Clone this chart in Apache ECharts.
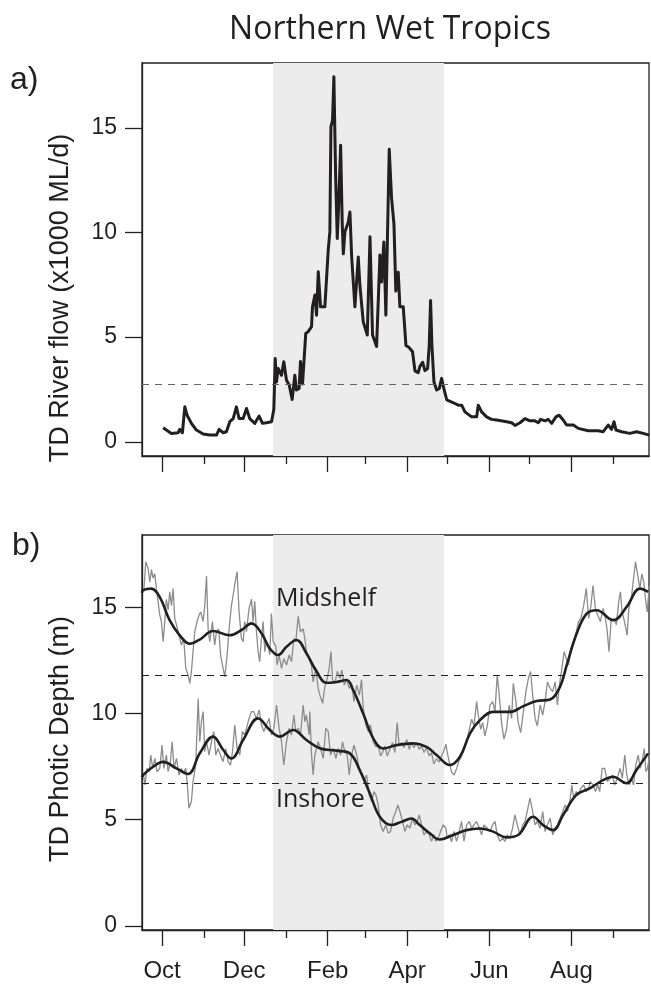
<!DOCTYPE html>
<html>
<head>
<meta charset="utf-8">
<script src="https://cdn.jsdelivr.net/npm/echarts@6/dist/echarts.min.js"></script>
<style>
html,body{margin:0;padding:0;background:#fff;}
#chart{width:651px;height:985px;}
</style>
</head>
<body>
<div id="chart"></div>
<script>
// x values are days counted from 1 October
const majorTickDays = [0, 61, 123, 182, 243, 304];
const majorTickLabels = ['Oct', 'Dec', 'Feb', 'Apr', 'Jun', 'Aug'];
const minorTickDays = [31, 92, 151, 212, 273, 335];
const yTicks = [0, 5, 10, 15];
const wetSeason = [82.5, 209.3];
const flowThreshold = 2.76;
const midshelfThreshold = 11.83;
const inshoreThreshold = 6.72;

const flowData = [[0.8,0.67],[3.2,0.56],[6.9,0.40],[11.9,0.43],[13.1,0.59],[15.1,0.43],[16.9,1.67],[18.6,1.27],[21.8,0.88],[25.5,0.56],[30.5,0.37],[35.4,0.32],[40.4,0.32],[42.4,0.59],[45.4,0.43],[47.8,0.48],[50.3,0.96],[52.8,1.11],[55.2,1.67],[57.2,1.11],[60.2,1.11],[62.7,1.59],[65.1,1.11],[68.9,0.88],[72.1,1.23],[74.6,0.88],[77.5,0.91],[81.3,0.96],[83.0,1.55],[84.0,3.98],[85.0,2.86],[86.2,3.50],[88.7,3.18],[90.4,3.82],[92.4,2.94],[94.4,2.71],[96.6,2.02],[98.6,3.18],[99.8,2.47],[101.8,2.55],[102.8,3.84],[104.3,2.76],[106.7,5.18],[108.5,5.26],[111.0,5.50],[111.7,6.45],[113.5,7.01],[114.7,6.05],[116.0,8.12],[117.7,6.45],[120.9,6.45],[123.4,9.16],[124.6,10.03],[125.4,15.05],[126.6,15.37],[127.6,17.44],[128.9,12.66],[130.1,9.71],[131.1,11.22],[132.6,14.17],[133.8,10.42],[134.6,8.98],[135.8,10.03],[138.3,10.50],[139.5,10.98],[140.8,8.83],[143.2,6.45],[145.7,8.83],[146.9,7.48],[148.2,7.40],[149.4,5.73],[152.4,5.10],[154.4,9.80],[156.3,5.10],[159.3,4.55],[161.8,8.93],[163.0,7.64],[164.7,9.55],[166.2,6.05],[168.7,13.98],[170.4,11.67],[172.2,10.4],[173.6,7.2],[175.4,8.1],[176.6,6.45],[179.1,6.45],[181.1,4.6],[183.5,4.5],[186.0,4.3],[187.8,3.39],[190.2,3.3],[191.5,3.6],[193.5,3.8],[195.2,3.4],[197.2,3.5],[198.4,4.6],[199.4,6.75],[200.4,4.6],[201.9,2.86],[203.9,2.47],[205.9,2.55],[207.6,3.03],[208.9,2.63],[211.4,2.0],[215.1,1.90],[220.0,1.75],[222.5,1.75],[224.9,1.43],[229.9,1.19],[233.6,1.19],[234.8,1.75],[237.3,1.43],[241.0,1.19],[244.7,1.07],[248.5,1.04],[255.9,0.96],[259.6,0.91],[262.1,0.78],[265.8,0.91],[269.5,1.11],[273.2,1.00],[276.9,1.00],[279.4,0.91],[281.1,1.07],[284.4,1.00],[286.8,1.07],[289.3,0.88],[292.5,1.19],[294.9,1.27],[297.9,1.04],[300.4,0.80],[305.4,0.80],[309.1,0.64],[316.5,0.53],[323.9,0.53],[327.6,0.48],[331.3,0.80],[333.8,0.59],[335.6,0.96],[337.1,0.56],[341.2,0.48],[347.4,0.40],[352.4,0.48],[357.3,0.40],[361.8,0.32]];

const midshelfSmooth = [[-14.9,15.7],[-14.1,15.83],[-8.0,15.9],[-1.7,15.5],[5.7,14.4],[13.1,13.7],[20.6,13.3],[28.0,13.5],[37.9,13.9],[50.3,13.7],[59.0,13.95],[66.4,14.26],[73.8,13.8],[80.0,13.08],[86.2,12.77],[92.4,13.16],[99.8,13.48],[107.2,12.85],[114.7,12.0],[122.1,11.46],[129.5,11.5],[137.0,11.59],[141.9,11.12],[149.4,10.0],[156.8,8.84],[164.2,8.36],[174.1,8.52],[186.5,8.6],[196.4,8.44],[203.9,8.05],[213.8,7.58],[221.2,7.97],[228.7,9.07],[236.1,9.70],[246.0,10.09],[258.4,10.09],[268.3,10.36],[278.2,10.6],[288.1,10.67],[295.5,11.27],[300.5,12.29],[307.9,13.78],[315.3,14.72],[322.7,14.88],[335.1,14.41],[345.0,15.04],[354.9,15.9],[361.1,15.75]];

const inshoreSmooth = [[-14.9,7.0],[-14.1,7.11],[-6.7,7.5],[0.7,7.73],[10.7,7.42],[19.3,7.16],[28.0,8.14],[37.9,8.92],[45.3,8.3],[51.5,7.89],[60.2,8.76],[71.3,9.78],[80.0,9.23],[87.4,8.92],[97.3,9.23],[107.2,8.76],[117.1,8.37],[129.5,8.26],[139.4,8.13],[146.8,7.34],[154.3,6.24],[161.7,5.14],[170.3,4.75],[177.8,4.9],[185.2,5.06],[191.4,4.75],[198.8,4.36],[206.2,4.07],[216.1,4.28],[226.0,4.51],[235.9,4.59],[245.8,4.44],[255.7,4.17],[264.4,4.28],[275.5,5.14],[282.9,4.75],[290.4,4.51],[297.8,5.22],[307.7,6.17],[317.6,6.48],[327.5,6.87],[334.9,7.03],[344.8,6.72],[352.2,7.34],[360.9,8.13]];

const midshelfDaily = [[-13.6,15.75],[-12.1,17.17],[-10.4,16.86],[-9.1,16.2],[-7.9,16.8],[-6.7,16.4],[-5.4,16.6],[-4.2,15.9],[-3.0,15.3],[-1.7,14.66],[-0.5,14.35],[0.8,13.4],[2.0,14.35],[3.2,15.4],[4.5,14.9],[5.7,15.75],[7.0,15.1],[8.2,15.9],[9.4,14.5],[10.7,14.2],[12.6,13.7],[14.4,13.24],[16.1,13.55],[17.6,12.14],[19.3,11.83],[20.6,11.43],[21.8,11.99],[23.0,12.93],[24.3,13.87],[26.0,14.35],[27.5,14.66],[28.7,14.8],[30.5,14.35],[31.7,15.1],[33.0,16.5],[34.2,14.0],[35.4,13.4],[37.4,14.35],[39.1,13.24],[40.4,13.87],[42.1,14.0],[43.4,12.8],[44.8,12.3],[46.6,11.74],[48.3,12.77],[49.8,14.0],[51.5,15.1],[52.8,15.6],[54.0,16.1],[55.7,16.7],[57.2,14.8],[58.9,13.55],[60.2,13.4],[61.4,14.35],[62.7,13.87],[64.6,14.97],[66.4,15.4],[67.6,14.35],[68.8,15.3],[70.1,13.87],[71.3,12.93],[72.5,12.46],[73.8,13.55],[75.0,14.35],[76.3,12.93],[77.5,13.4],[78.8,13.2],[80.0,12.77],[81.2,14.73],[82.5,13.4],[84.4,13.2],[85.4,12.3],[86.9,12.77],[88.7,12.14],[90.4,12.6],[92.4,12.3],[94.4,12.77],[96.1,12.46],[97.9,13.55],[99.3,13.4],[101.1,14.6],[102.8,13.87],[104.8,14.0],[106.0,13.55],[107.2,12.93],[109.2,12.6],[110.9,12.3],[112.2,11.5],[112.7,11.66],[114.2,12.14],[115.9,11.2],[117.2,10.88],[119.2,10.49],[120.9,11.27],[122.6,11.66],[124.1,12.14],[125.4,12.93],[126.6,11.6],[128.4,11.43],[130.1,12.0],[132.1,11.66],[133.5,12.06],[135.3,11.35],[137.0,11.6],[139.0,11.2],[140.7,11.43],[142.5,10.57],[144.5,11.35],[146.5,10.88],[148.1,11.6],[149.4,10.26],[151.4,9.47],[153.1,9.16],[154.8,9.47],[156.8,8.68],[158.8,8.44],[160.5,8.5],[162.2,8.01],[163.7,8.17],[165.4,8.48],[167.2,8.01],[169.2,8.32],[171.1,8.64],[172.9,8.17],[174.6,9.58],[176.1,8.48],[177.9,8.64],[179.6,8.4],[181.6,8.79],[183.6,8.32],[185.3,8.64],[187.0,8.4],[189.0,8.64],[191.0,8.32],[192.7,8.48],[194.5,8.17],[196.4,8.4],[198.4,8.01],[200.1,8.17],[201.8,7.63],[203.8,7.88],[205.8,7.72],[207.5,8.01],[209.3,8.25],[210.8,8.56],[211.8,8.17],[213.3,7.72],[215.0,7.25],[216.8,7.1],[218.7,7.41],[220.7,7.8],[222.4,8.01],[224.2,8.32],[226.2,8.72],[228.2,9.27],[229.9,9.74],[231.6,9.43],[233.6,10.57],[234.8,9.94],[236.6,9.27],[238.1,9.58],[239.7,8.96],[241.5,9.43],[243.5,10.41],[245.5,10.57],[247.2,10.1],[248.9,11.83],[250.4,10.88],[252.1,9.58],[253.9,8.8],[255.8,9.27],[257.8,10.41],[259.6,9.78],[260.8,11.43],[262.8,10.57],[264.5,9.58],[266.3,9.11],[268.3,10.1],[270.2,11.04],[272.0,11.66],[273.7,11.99],[275.2,10.88],[277.0,9.78],[278.7,9.43],[280.7,10.41],[282.7,9.94],[284.4,10.57],[286.2,11.5],[288.2,11.2],[290.1,11.04],[291.9,11.5],[293.6,10.41],[295.1,11.35],[296.9,12.14],[298.6,12.93],[300.1,12.6],[301.8,12.3],[303.6,13.08],[305.6,13.4],[307.6,13.87],[309.3,14.35],[311.0,14.5],[313.1,15.1],[315.0,15.9],[316.8,14.5],[318.5,15.1],[320.0,16.05],[321.8,14.97],[323.5,14.66],[325.5,14.35],[327.5,14.97],[329.2,14.5],[330.4,14.0],[331.9,12.93],[333.4,14.35],[335.4,14.5],[337.4,14.2],[339.1,15.3],[340.4,15.75],[341.6,14.8],[343.4,14.35],[345.4,13.7],[346.6,14.97],[348.4,15.4],[349.8,16.2],[351.6,17.17],[353.3,16.5],[354.8,15.9],[356.3,16.6],[357.8,16.2],[359.0,15.4],[360.3,14.8],[361.8,16.05]];

const inshoreDaily = [[-13.8,7.11],[-12.6,6.64],[-11.4,7.42],[-9.6,7.27],[-8.4,8.05],[-6.9,7.42],[-5.4,7.89],[-3.7,7.27],[-1.7,7.42],[0.0,8.52],[1.3,7.42],[3.2,8.05],[4.5,7.27],[6.2,7.74],[7.5,8.68],[8.9,7.42],[10.7,7.89],[12.6,7.11],[14.4,7.42],[15.6,7.19],[17.6,7.42],[18.8,6.64],[20.0,5.54],[21.8,5.86],[23.0,6.8],[25.0,7.58],[26.8,10.72],[28.0,8.68],[29.2,9.63],[30.5,10.1],[31.7,8.21],[33.0,8.68],[34.9,8.05],[36.7,8.68],[38.4,9.16],[39.9,8.05],[41.6,8.36],[43.4,8.05],[45.3,7.74],[47.3,8.36],[49.0,7.74],[50.8,7.58],[52.3,8.21],[54.0,9.47],[55.7,8.36],[57.7,8.05],[59.7,9.16],[61.4,9.0],[62.7,9.32],[64.6,9.78],[66.4,10.1],[68.1,10.1],[70.1,9.78],[72.1,10.18],[73.8,9.47],[75.6,9.16],[77.5,9.47],[79.5,9.78],[81.2,9.0],[83.0,9.32],[85.0,10.41],[86.9,9.32],[88.7,8.68],[90.4,7.58],[92.4,8.68],[94.4,9.32],[96.1,9.0],[97.9,9.94],[99.3,9.16],[101.1,9.32],[102.8,9.0],[104.8,10.41],[106.0,9.63],[107.2,9.94],[109.2,9.0],[109.7,10.1],[111.0,8.05],[112.2,7.11],[113.4,8.05],[115.9,8.68],[117.7,8.36],[119.7,7.89],[121.6,9.32],[123.4,9.16],[125.1,8.05],[127.1,8.36],[129.1,7.89],[130.8,8.36],[132.6,8.05],[134.0,8.68],[135.7,8.21],[137.5,8.05],[139.0,7.11],[140.7,8.05],[142.5,8.52],[144.5,8.05],[146.5,7.42],[148.1,7.11],[149.9,6.8],[151.9,7.11],[153.8,6.17],[155.6,5.86],[157.3,6.33],[158.8,6.17],[160.5,5.7],[162.2,4.76],[164.2,4.45],[166.2,4.76],[167.9,4.37],[169.7,4.45],[171.6,5.07],[173.6,5.39],[175.1,5.7],[176.6,5.39],[178.6,4.92],[180.3,4.45],[182.1,4.76],[184.0,4.6],[186.0,5.07],[187.7,4.76],[189.5,4.92],[191.0,5.23],[192.7,4.76],[194.5,4.29],[196.4,4.45],[198.4,4.29],[200.1,3.98],[201.8,4.29],[203.3,3.98],[205.0,4.13],[206.8,4.45],[208.8,4.76],[210.8,4.6],[211.8,4.13],[213.3,4.29],[215.0,3.96],[216.8,4.45],[218.7,3.98],[220.7,4.45],[222.4,4.92],[224.2,3.98],[226.2,4.76],[228.2,4.92],[229.9,4.6],[231.6,4.76],[233.6,4.92],[235.6,4.6],[237.3,4.29],[239.1,4.76],[241.5,4.6],[243.5,4.45],[245.5,4.76],[247.2,4.92],[248.9,4.29],[250.9,3.98],[252.9,4.13],[254.6,3.98],[256.3,4.29],[258.3,4.13],[260.3,4.6],[262.0,5.23],[263.8,4.76],[265.8,4.29],[267.7,4.76],[269.5,4.92],[271.2,5.39],[273.2,6.02],[275.2,5.39],[277.0,4.76],[278.7,4.92],[280.7,4.6],[282.7,5.39],[284.4,4.45],[286.2,4.76],[288.2,5.07],[290.1,4.29],[291.9,4.6],[293.6,4.76],[295.6,5.07],[297.6,5.39],[299.3,5.7],[301.1,5.39],[303.1,6.02],[304.3,6.64],[305.6,6.02],[307.6,6.33],[309.3,6.17],[311.0,6.49],[313.1,6.64],[315.0,6.33],[316.8,6.49],[318.0,6.8],[320.0,6.64],[321.8,6.33],[323.5,6.64],[325.0,6.33],[326.8,7.42],[328.7,7.42],[330.7,6.8],[332.7,6.96],[334.4,7.11],[336.1,6.64],[338.1,6.96],[340.1,7.42],[341.8,6.96],[343.6,8.05],[345.1,7.11],[346.8,6.64],[348.6,6.96],[350.1,6.64],[351.8,7.58],[353.6,8.05],[355.1,7.42],[356.8,7.89],[358.1,8.36],[359.3,7.27],[360.5,7.42],[362.0,8.05]];

const INK = '#231f20';
const GREY = '#8c8c8c';
const SHADE = '#ececec';
const XMIN = -14.9, XMAX = 361.6;

function xAxes(gridIndex, withLabels) {
  return [
    {
      type: 'value', gridIndex: gridIndex, position: 'bottom', min: XMIN, max: XMAX,
      axisLine: { show: true, onZero: false, lineStyle: { color: INK, width: 1.3 } },
      axisTick: { show: true, customValues: majorTickDays, length: 16, lineStyle: { color: INK, width: 1.3 } },
      axisLabel: {
        show: withLabels, customValues: majorTickDays, margin: 29,
        color: INK, fontFamily: 'Liberation Sans', fontSize: 24,
        formatter: function (v) { return majorTickLabels[majorTickDays.indexOf(Math.round(v))] || ''; }
      },
      splitLine: { show: false }
    },
    {
      type: 'value', gridIndex: gridIndex, position: 'bottom', min: XMIN, max: XMAX,
      axisLine: { show: false, onZero: false },
      axisTick: { show: true, customValues: minorTickDays, length: 8, lineStyle: { color: INK, width: 1.3 } },
      axisLabel: { show: false },
      splitLine: { show: false }
    }
  ];
}

function yAxis(gridIndex, min, max) {
  return {
    type: 'value', gridIndex: gridIndex, min: min, max: max,
    axisLine: { show: true, onZero: false, lineStyle: { color: INK, width: 1.3 } },
    axisTick: { show: true, customValues: yTicks, length: 17, lineStyle: { color: INK, width: 1.3 } },
    axisLabel: { show: true, customValues: yTicks, margin: 25, color: INK, fontFamily: 'Liberation Sans', fontSize: 23 },
    splitLine: { show: false }
  };
}

function backdrop(xi, yi, thresholds, dashColor) {
  return {
    type: 'line', xAxisIndex: xi, yAxisIndex: yi, data: [], z: 1, silent: true,
    markArea: { silent: true, itemStyle: { color: SHADE }, data: [[{ xAxis: wetSeason[0] }, { xAxis: wetSeason[1] }]] },
    markLine: {
      silent: true, symbol: ['none', 'none'], label: { show: false },
      lineStyle: { color: dashColor, type: [7, 6], width: 1.2 },
      data: thresholds.map(function (t) { return { yAxis: t }; })
    }
  };
}

const option = {
  animation: false,
  backgroundColor: '#fff',
  grid: [
    { left: 142, top: 63, right: 2, height: 393, show: true, borderColor: INK, borderWidth: 1.3, backgroundColor: 'transparent' },
    { left: 142, top: 535, right: 2, height: 395, show: true, borderColor: INK, borderWidth: 1.3, backgroundColor: 'transparent' }
  ],
  xAxis: xAxes(0, false).concat(xAxes(1, true)),
  yAxis: [yAxis(0, -0.68, 18.1), yAxis(1, -0.2, 18.43)],
  series: [
    backdrop(0, 0, [flowThreshold], '#666666'),
    { type: 'line', name: 'River flow', xAxisIndex: 0, yAxisIndex: 0, data: flowData, showSymbol: false, z: 3,
      lineStyle: { color: INK, width: 3, join: 'round' } },
    backdrop(2, 1, [midshelfThreshold, inshoreThreshold], INK),
    { type: 'line', name: 'Midshelf daily', xAxisIndex: 2, yAxisIndex: 1, data: midshelfDaily, showSymbol: false, z: 2,
      lineStyle: { color: GREY, width: 1.3 } },
    { type: 'line', name: 'Inshore daily', xAxisIndex: 2, yAxisIndex: 1, data: inshoreDaily, showSymbol: false, z: 2,
      lineStyle: { color: GREY, width: 1.3 } },
    { type: 'line', name: 'Midshelf smooth', xAxisIndex: 2, yAxisIndex: 1, data: midshelfSmooth, showSymbol: false, smooth: 0.4, z: 3,
      lineStyle: { color: INK, width: 2.6 } },
    { type: 'line', name: 'Inshore smooth', xAxisIndex: 2, yAxisIndex: 1, data: inshoreSmooth, showSymbol: false, smooth: 0.4, z: 3,
      lineStyle: { color: INK, width: 2.6 } }
  ],
  graphic: [
    { type: 'text', style: { text: 'Northern Wet Tropics', x: 390, y: 30, align: 'center', verticalAlign: 'middle', font: '32px "Open Sans"', fill: INK } },
    { type: 'text', style: { text: 'a)', x: 10, y: 80, verticalAlign: 'middle', font: '32px "Liberation Sans"', fill: INK } },
    { type: 'text', style: { text: 'b)', x: 12, y: 546, verticalAlign: 'middle', font: '32px "Liberation Sans"', fill: INK } },
    { type: 'text', x: 61, y: 298, rotation: Math.PI / 2, style: { text: 'TD River flow (x1000 ML/d)', align: 'center', verticalAlign: 'middle', font: '27px "Liberation Sans"', fill: INK } },
    { type: 'text', x: 61, y: 739, rotation: Math.PI / 2, style: { text: 'TD Photic Depth (m)', align: 'center', verticalAlign: 'middle', font: '27px "Liberation Sans"', fill: INK } },
    { type: 'text', z: 10, style: { text: 'Midshelf', x: 276, y: 599, verticalAlign: 'middle', font: '25px "Open Sans"', fill: INK } },
    { type: 'text', z: 10, style: { text: 'Inshore', x: 276, y: 800, verticalAlign: 'middle', font: '25px "Open Sans"', fill: INK } }
  ]
};

const chart = echarts.init(document.getElementById('chart'), null, { renderer: 'canvas' });
chart.setOption(option);
</script>
</body>
</html>
